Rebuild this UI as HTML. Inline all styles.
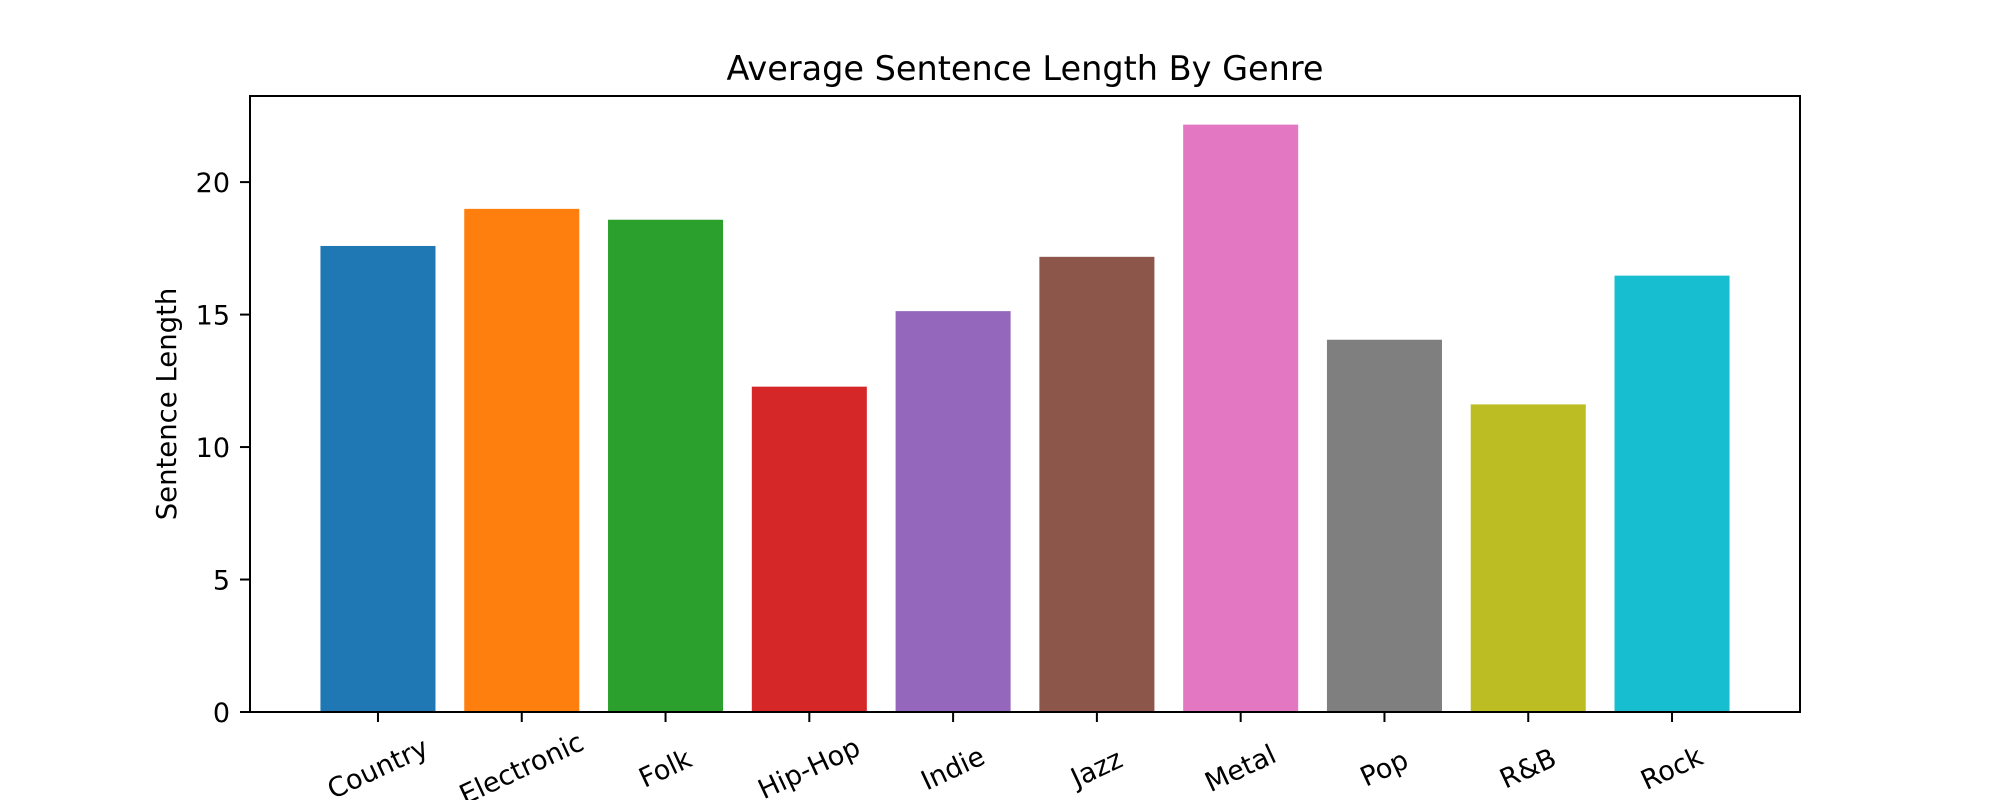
<!DOCTYPE html>
<html><head><meta charset="utf-8"><style>
html,body{margin:0;padding:0;background:#fff;}
svg{display:block;font-family:"DejaVu Sans","Liberation Sans",sans-serif;}
</style></head><body>
<svg id="chart" width="2000" height="800" viewBox="0 0 2000 800" xmlns="http://www.w3.org/2000/svg">
<rect width="2000" height="800" fill="#fff"/>
<text x="1025" y="80" font-size="33.5" text-anchor="middle" fill="#000">Average Sentence Length By Genre</text>
<text transform="translate(176,404) rotate(-90)" font-size="27.5" text-anchor="middle" fill="#000">Sentence Length</text>
<g id="bars"></g>
<g id="yticks"></g>
<g id="xticks"></g>
<rect x="250" y="96" width="1550" height="616" fill="none" stroke="#000" stroke-width="2"/>
</svg>
<script>
const categories = ["Country","Electronic","Folk","Hip-Hop","Indie","Jazz","Metal","Pop","R&B","Rock"];
const values = [17.59,18.99,18.58,12.28,15.13,17.18,22.17,14.05,11.61,16.47];
const colors = ["#1f77b4","#ff7f0e","#2ca02c","#d62728","#9467bd","#8c564b","#e377c2","#7f7f7f","#bcbd22","#17becf"];
const yTicks = [0,5,10,15,20];

const NS = "http://www.w3.org/2000/svg";
const L=250,R=1800,T=96,B=712;
const yMax = 23.25;
const xMin=-0.89, xMax=categories.length-1+0.89;
function xs(v){return L+(v-xMin)/(xMax-xMin)*(R-L);}
function ys(v){return B-v/yMax*(B-T);}
function mk(tag,attrs,parent){const e=document.createElementNS(NS,tag);for(const k in attrs)e.setAttribute(k,attrs[k]);parent.appendChild(e);return e;}

const bars=document.getElementById('bars');
const bw=xs(0.8)-xs(0);
values.forEach((v,i)=>{
  const r=mk('rect',{x:xs(i)-bw/2,y:ys(v),width:bw,height:ys(0)-ys(v),fill:colors[i%colors.length]},bars);
  
  
});

const yg=document.getElementById('yticks');
yTicks.forEach(t=>{
  const l=mk('line',{x1:240,x2:250,y1:ys(t),y2:ys(t),stroke:'#000','stroke-width':2},yg);
  
  
  const tx=mk('text',{x:230,y:ys(t)+10,'font-size':27,'text-anchor':'end',fill:'#000'},yg);
  tx.textContent=String(t);
  
  
});

const xg=document.getElementById('xticks');
categories.forEach((c,i)=>{
  const x=xs(i);
  const l=mk('line',{x1:x,x2:x,y1:712,y2:722,stroke:'#000','stroke-width':2},xg);
  
  
  const tx=mk('text',{x:0,y:0,'font-size':27,'text-anchor':'middle','dominant-baseline':'central',fill:'#000',transform:'translate('+x+',769) rotate(-25)'},xg);
  tx.textContent=c;
  
  
});
</script>
</body></html>
